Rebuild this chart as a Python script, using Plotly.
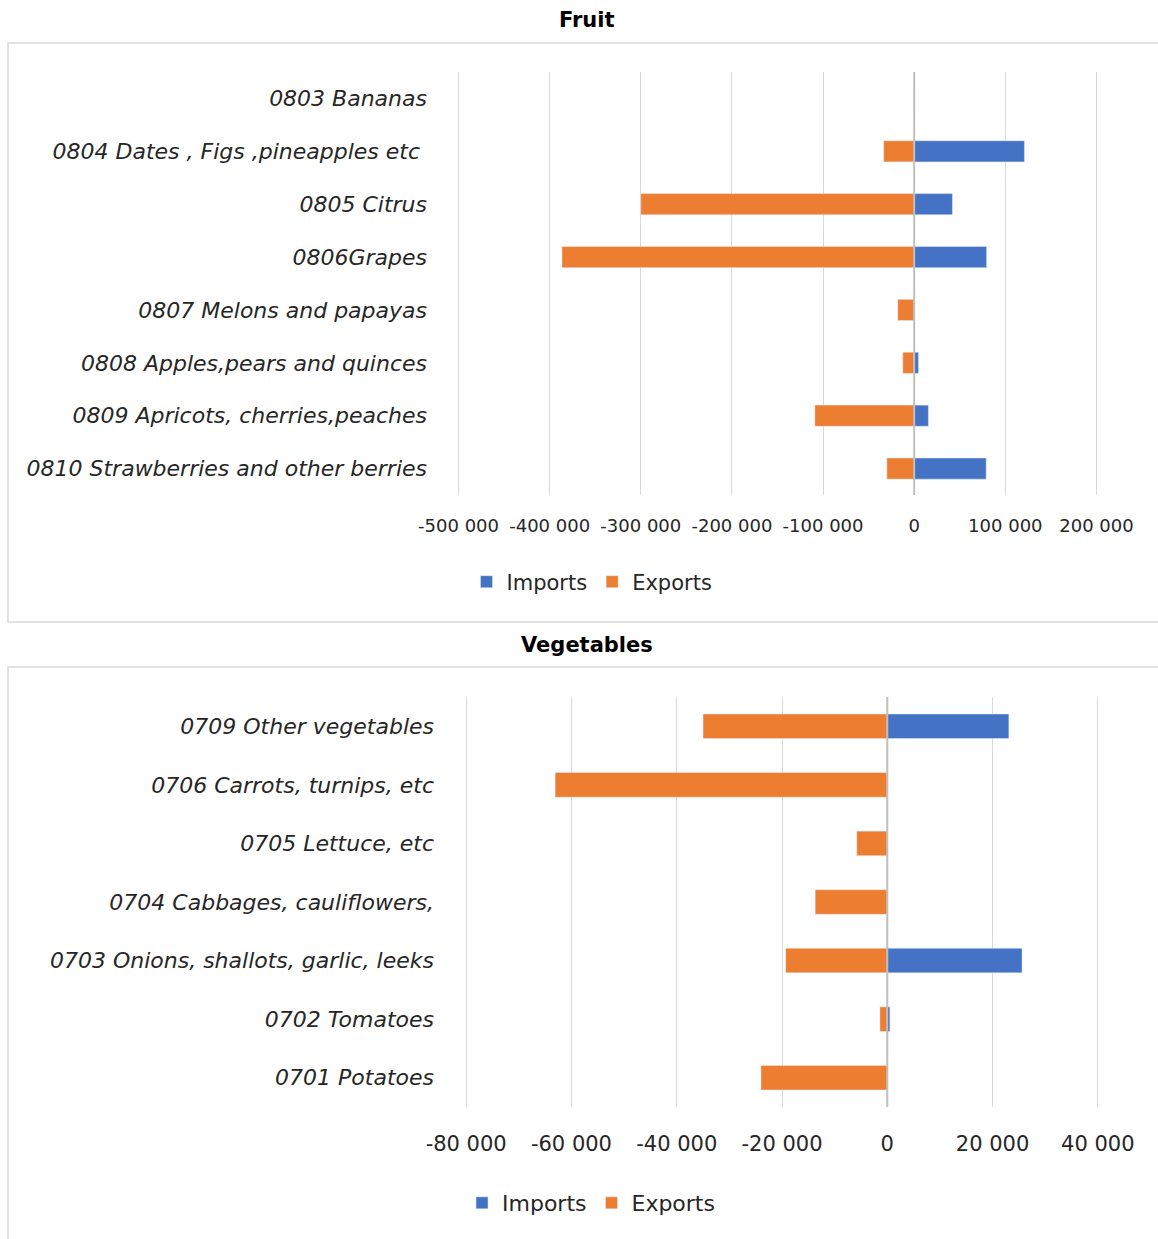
import plotly.graph_objects as go

# Fruit data (tonnes), top-to-bottom order
fruit_categories = [
    "0803 Bananas",
    "0804 Dates , Figs ,pineapples etc ",
    "0805 Citrus",
    "0806Grapes",
    "0807 Melons and papayas",
    "0808 Apples,pears and quinces",
    "0809 Apricots, cherries,peaches",
    "0810 Strawberries and other berries",
]
fruit_imports = [0, 121000, 42000, 79500, 500, 4700, 15600, 79000]
fruit_exports = [0, -33500, -300000, -386500, -18000, -12500, -109000, -30000]
fruit_tickvals = [-500000, -400000, -300000, -200000, -100000, 0, 100000, 200000]
fruit_ticktext = ["-500 000", "-400 000", "-300 000", "-200 000", "-100 000", "0", "100 000", "200 000"]

# Vegetables data (tonnes), top-to-bottom order
veg_categories = [
    "0709 Other vegetables",
    "0706 Carrots, turnips, etc",
    "0705 Lettuce, etc",
    "0704 Cabbages, cauliflowers,",
    "0703 Onions, shallots, garlic, leeks",
    "0702 Tomatoes",
    "0701 Potatoes",
]
veg_imports = [23100, 0, 0, 0, 25600, 500, 0]
veg_exports = [-35000, -63100, -5800, -13700, -19300, -1400, -24000]
veg_tickvals = [-80000, -60000, -40000, -20000, 0, 20000, 40000]
veg_ticktext = ["-80 000", "-60 000", "-40 000", "-20 000", "0", "20 000", "40 000"]

BLUE = "#4472C4"
ORANGE = "#ED7D31"
GRID = "#D9D9D9"
TXT = "#262626"
FONT = "DejaVu Sans, sans-serif"
W, H = 1158, 1239


def px_x(p):
    return p / W


def px_y(p):
    return 1 - p / H


fig = go.Figure()

# Fruit panel
fig.add_trace(go.Bar(y=fruit_categories, x=fruit_imports, name="Imports", orientation="h",
                     marker_color=BLUE, width=0.4, xaxis="x", yaxis="y", legend="legend"))
fig.add_trace(go.Bar(y=fruit_categories, x=fruit_exports, name="Exports", orientation="h",
                     marker_color=ORANGE, width=0.4, xaxis="x", yaxis="y", legend="legend"))

# Vegetables panel
fig.add_trace(go.Bar(y=veg_categories, x=veg_imports, name="Imports", orientation="h",
                     marker_color=BLUE, width=0.42, xaxis="x2", yaxis="y2", legend="legend2"))
fig.add_trace(go.Bar(y=veg_categories, x=veg_exports, name="Exports", orientation="h",
                     marker_color=ORANGE, width=0.42, xaxis="x2", yaxis="y2", legend="legend2"))

axis_common = dict(showgrid=True, gridcolor=GRID, gridwidth=1, zeroline=False,
                   showline=False, ticks="", fixedrange=True, automargin=False)
yaxis_common = dict(autorange="reversed", categoryorder="array", showgrid=False,
                    zeroline=False, showline=False, ticks="", fixedrange=True, automargin=False)

fig.update_layout(
    width=W, height=H,
    margin=dict(l=0, r=0, t=0, b=0, autoexpand=False),
    paper_bgcolor="white", plot_bgcolor="white",
    barmode="relative",
    font=dict(family=FONT, color=TXT),
    xaxis=dict(domain=[px_x(454), px_x(1101)], anchor="y", range=[-505000, 205000],
               tickvals=fruit_tickvals, ticktext=fruit_ticktext,
               tickfont=dict(size=18, color=TXT), ticklabelstandoff=18, **axis_common),
    yaxis=dict(domain=[px_y(495), px_y(72)], anchor="x", categoryarray=fruit_categories,
               ticklabelstandoff=26, tickfont=dict(size=22, color=TXT, style="italic"),
               **yaxis_common),
    xaxis2=dict(domain=[px_x(463), px_x(1101)], anchor="y2", range=[-80600, 40600],
                tickvals=veg_tickvals, ticktext=veg_ticktext,
                tickfont=dict(size=21, color=TXT), ticklabelstandoff=22, **axis_common),
    yaxis2=dict(domain=[px_y(1107), px_y(697)], anchor="x2", categoryarray=veg_categories,
                ticklabelstandoff=28, tickfont=dict(size=22, color=TXT, style="italic"),
                **yaxis_common),
    legend=dict(orientation="h", x=px_x(592), y=px_y(582), xanchor="center", yanchor="middle",
                font=dict(size=21, color=TXT), bgcolor="rgba(0,0,0,0)", itemwidth=30,
                traceorder="normal"),
    legend2=dict(orientation="h", x=px_x(591), y=px_y(1203), xanchor="center", yanchor="middle",
                 font=dict(size=22, color=TXT), bgcolor="rgba(0,0,0,0)", itemwidth=30,
                 traceorder="normal"),
    showlegend=True,
)

# panel frames
fig.add_shape(type="rect", xref="paper", yref="paper",
              x0=px_x(8), x1=px_x(1162), y0=px_y(622), y1=px_y(43),
              line=dict(color=GRID, width=1.5), layer="below")
fig.add_shape(type="rect", xref="paper", yref="paper",
              x0=px_x(8), x1=px_x(1162), y0=px_y(1242), y1=px_y(667),
              line=dict(color=GRID, width=1.5), layer="below")

# zero axis lines drawn over the bars
fig.add_shape(type="line", xref="x", yref="y domain", x0=0, x1=0, y0=0, y1=1,
              line=dict(color="#BFBFBF", width=2), layer="above")
fig.add_shape(type="line", xref="x2", yref="y2 domain", x0=0, x1=0, y0=0, y1=1,
              line=dict(color="#BFBFBF", width=2), layer="above")

# panel titles
fig.add_annotation(text="<b>Fruit</b>", xref="paper", yref="paper", x=px_x(587), y=px_y(20),
                   showarrow=False, font=dict(size=21, color="black"), xanchor="center", yanchor="middle")
fig.add_annotation(text="<b>Vegetables</b>", xref="paper", yref="paper", x=px_x(587), y=px_y(645),
                   showarrow=False, font=dict(size=21, color="black"), xanchor="center", yanchor="middle")

fig.write_html("out.html", config={"displayModeBar": False},
               post_script="document.body.style.margin='0';")
